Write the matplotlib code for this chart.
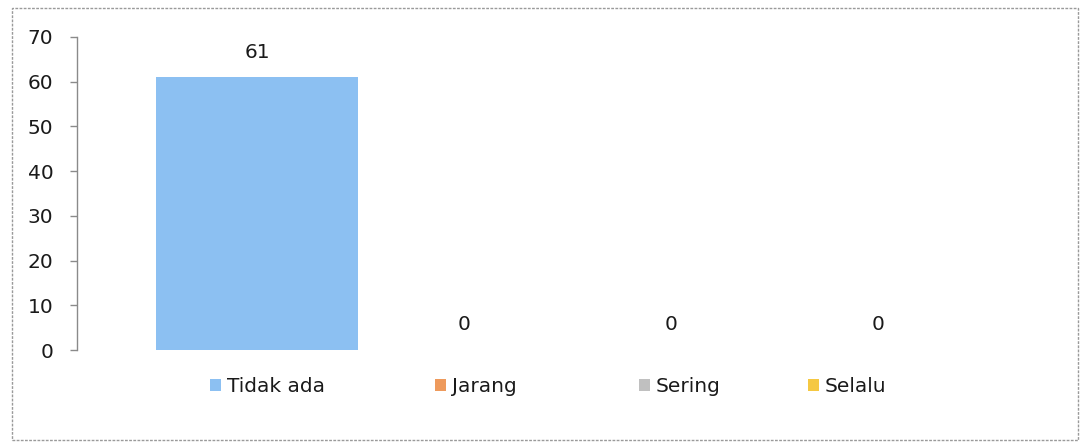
import matplotlib
matplotlib.use("Agg")
import matplotlib.pyplot as plt
from matplotlib.patches import Rectangle

categories = ["Tidak ada", "Jarang", "Sering", "Selalu"]
values = [61, 0, 0, 0]
colors = ["#8CC0F2", "#EE9A5C", "#C0C0C0", "#F5C842"]
yticks = [0, 10, 20, 30, 40, 50, 60, 70]

plt.rcParams["font.family"] = ["DejaVu Sans"]
FS = 14.5

W, H = 1082, 442
fig = plt.figure(figsize=(W / 100, H / 100), dpi=100)
fig.patch.set_facecolor("white")

# outer chart frame
fig.add_artist(Rectangle((12 / W, 2 / H), 1066 / W, 432 / H, transform=fig.transFigure,
                         fill=False, edgecolor="#9a9a9a", linewidth=1.0, linestyle=(0, (2, 1))))

ax = fig.add_axes([77 / W, 92 / H, 981 / W, 313 / H])
pos = list(range(len(categories)))
bars = []
for i, (cat, val, col) in enumerate(zip(categories, values, colors)):
    b = ax.bar(pos[i], val, width=0.976, color=col, label=cat, linewidth=0)
    bars.append(b)
    ax.annotate(str(val), (pos[i], val), xytext=(0, 18), textcoords="offset points",
                ha="center", va="center", fontsize=FS, color="#1a1a1a")

ax.set_xlim(-0.87, 3.87)
ax.set_ylim(0, 70)
ax.set_yticks(yticks)
ax.set_xticks([])
for s in ["top", "right", "bottom"]:
    ax.spines[s].set_visible(False)
ax.spines["left"].set_color("#8a8a8a")
ax.spines["left"].set_linewidth(1.0)
ax.tick_params(axis="y", direction="out", length=5, width=1.0, color="#8a8a8a",
               pad=12, labelsize=FS, labelcolor="#1a1a1a")

# legend entries, spread across the bottom of the chart
legend_x = [210, 435, 639, 808]
for b, cat, x in zip(bars, categories, legend_x):
    leg = fig.legend([b], [cat], loc="center left", bbox_to_anchor=(x / W, 1 - 387 / H),
                     frameon=False, fontsize=FS, handlelength=0.55, handleheight=0.55,
                     handletextpad=0.3, borderpad=0, borderaxespad=0)
    for t in leg.get_texts():
        t.set_color("#1a1a1a")

fig.savefig("out.png", dpi=100, facecolor="white")
